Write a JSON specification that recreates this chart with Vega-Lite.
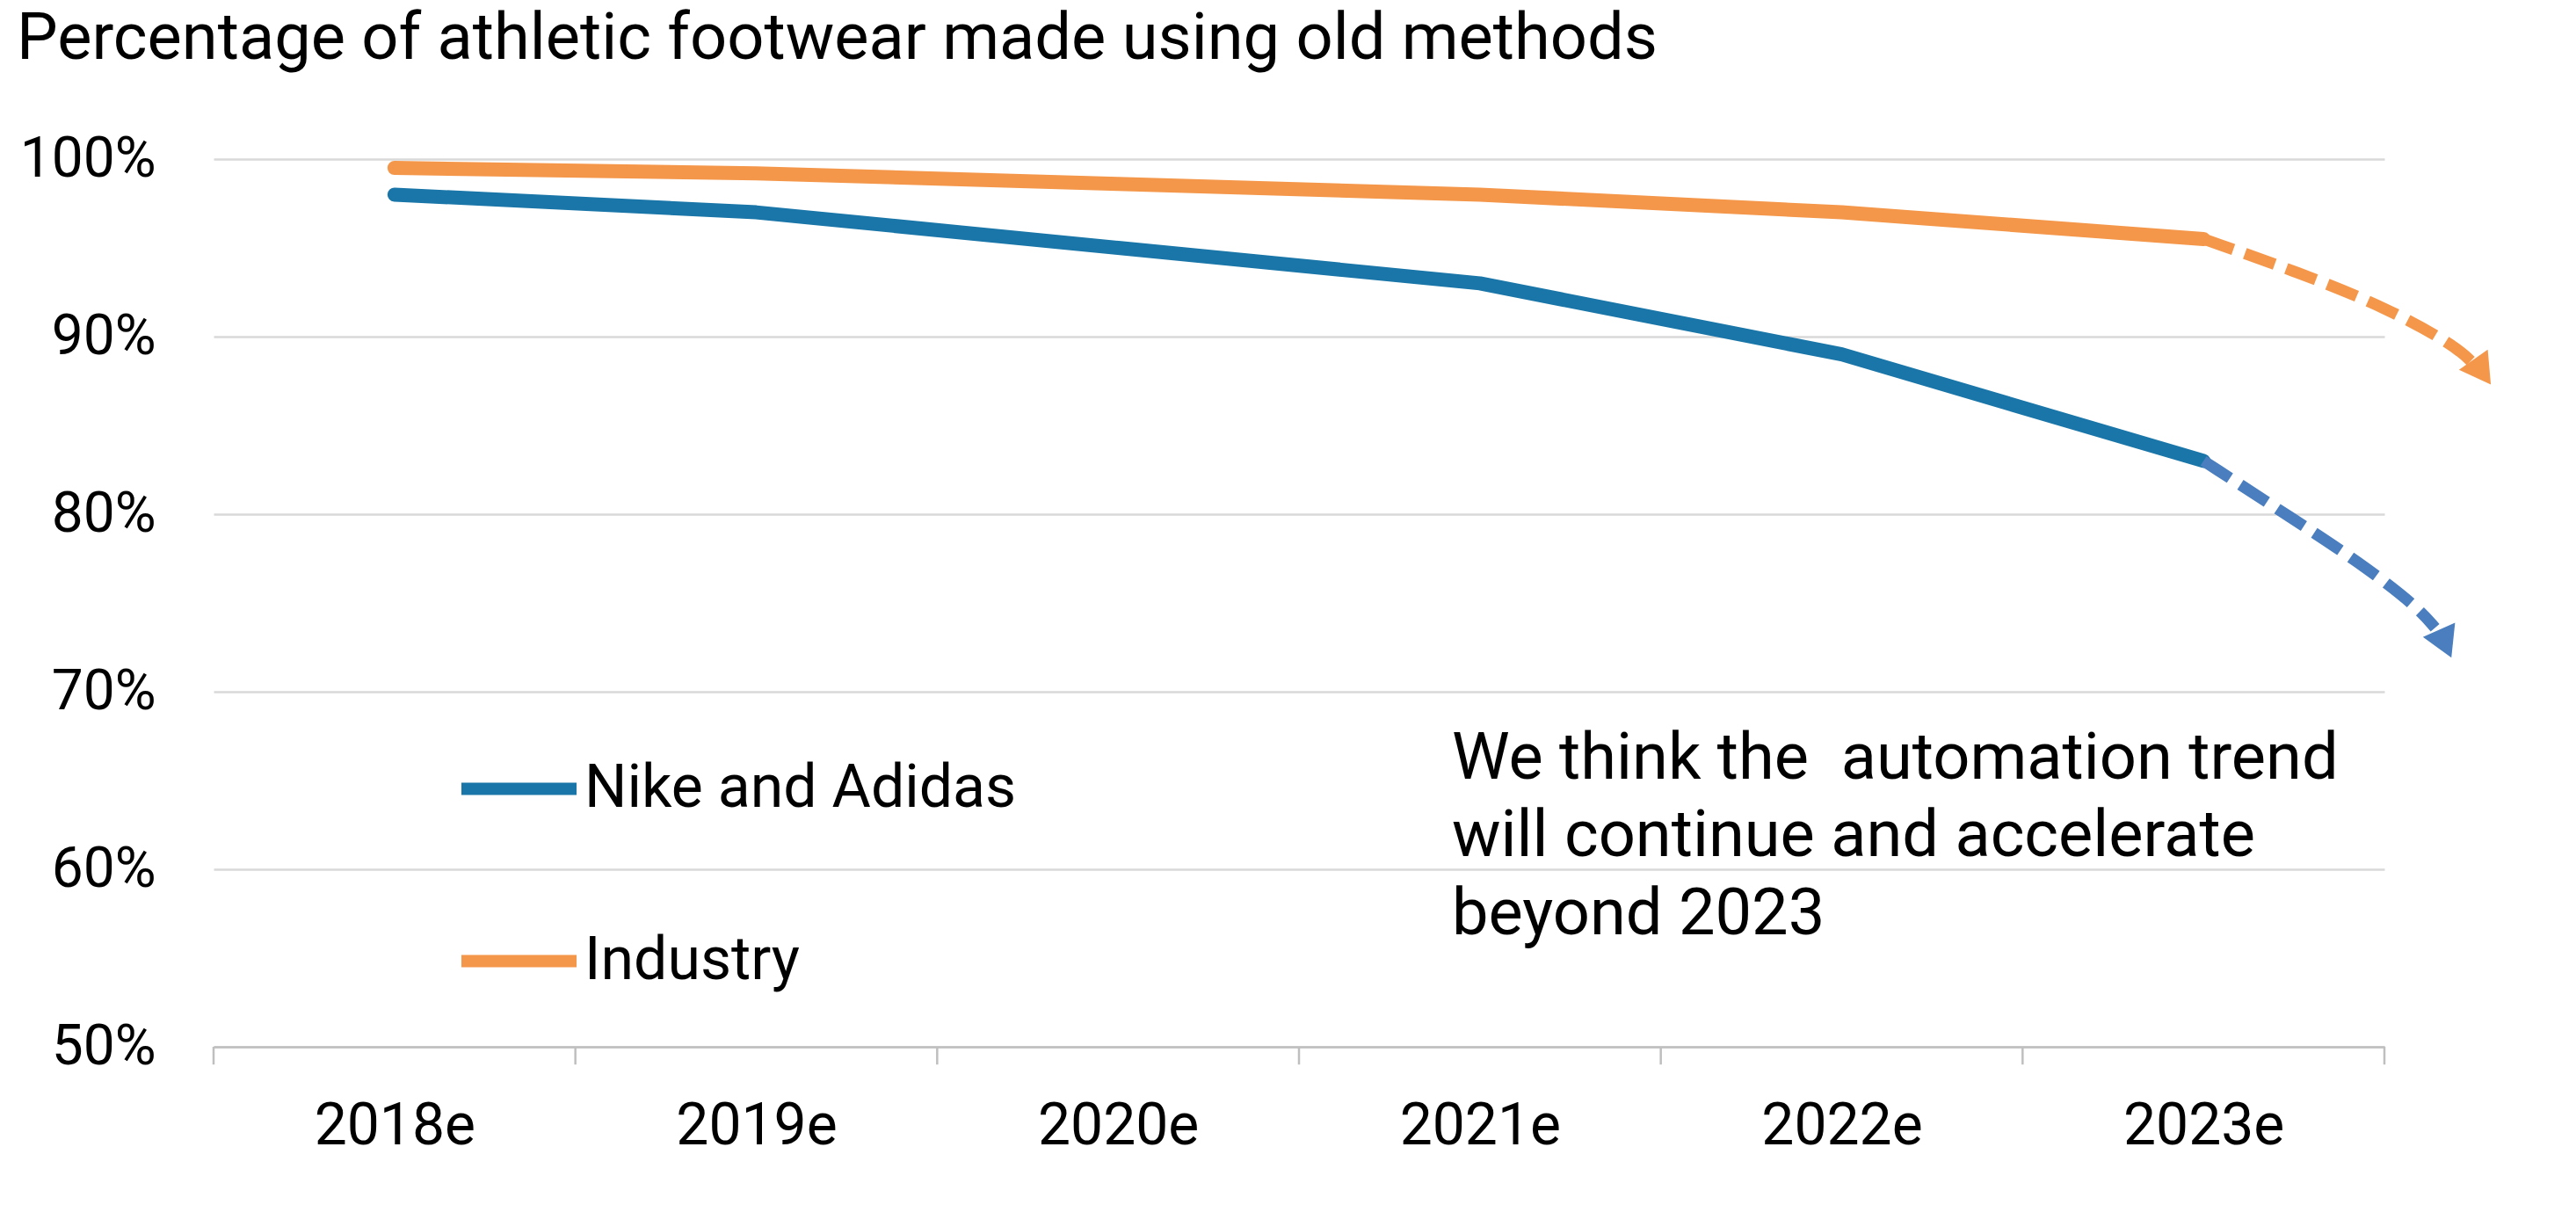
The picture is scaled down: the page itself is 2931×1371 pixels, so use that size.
{
  "$schema": "https://vega.github.io/schema/vega-lite/v6.json",
  "width": 2470,
  "height": 1010,
  "autosize": {"type": "none"},
  "padding": {"left": 243, "top": 181, "right": 218, "bottom": 180},
  "background": "white",
  "config": {
    "font": "Roboto",
    "view": {"stroke": null},
    "legend": {
      "orient": "none",
      "legendX": 275,
      "legendY": 644,
      "title": null,
      "symbolType": "stroke",
      "symbolSize": 17161,
      "symbolStrokeWidth": 14,
      "labelFontSize": 68,
      "labelFont": "Roboto",
      "labelColor": "#000000",
      "labelLimit": 0,
      "rowPadding": 89,
      "labelOffset": 2
    }
  },
  "title": {
    "text": "Percentage of athletic footwear made using old methods",
    "anchor": "start",
    "frame": "group",
    "fontSize": 74,
    "fontWeight": "normal",
    "font": "Roboto",
    "color": "#000000",
    "baseline": "alphabetic",
    "offset": 8,
    "dx": -224,
    "limit": 0
  },
  "datasets": {
    "actual": [
      {"series": "Nike and Adidas", "year": "2018e", "x": 0, "y": 98.0},
      {"series": "Nike and Adidas", "year": "2019e", "x": 1, "y": 97.0},
      {"series": "Nike and Adidas", "year": "2020e", "x": 2, "y": 95.0},
      {"series": "Nike and Adidas", "year": "2021e", "x": 3, "y": 93.0},
      {"series": "Nike and Adidas", "year": "2022e", "x": 4, "y": 89.0},
      {"series": "Nike and Adidas", "year": "2023e", "x": 5, "y": 83.0},
      {"series": "Industry", "year": "2018e", "x": 0, "y": 99.5},
      {"series": "Industry", "year": "2019e", "x": 1, "y": 99.2},
      {"series": "Industry", "year": "2020e", "x": 2, "y": 98.6},
      {"series": "Industry", "year": "2021e", "x": 3, "y": 98.0},
      {"series": "Industry", "year": "2022e", "x": 4, "y": 97.0},
      {"series": "Industry", "year": "2023e", "x": 5, "y": 95.5}
    ],
    "proj": [
      {"series": "Nike and Adidas", "x": 5.0, "y": 83.0},
      {"series": "Nike and Adidas", "x": 5.25, "y": 79.7},
      {"series": "Nike and Adidas", "x": 5.43, "y": 77.3},
      {"series": "Nike and Adidas", "x": 5.59, "y": 74.8},
      {"series": "Nike and Adidas", "x": 5.64, "y": 73.6},
      {"series": "Industry", "x": 5.0, "y": 95.5},
      {"series": "Industry", "x": 5.266, "y": 93.6},
      {"series": "Industry", "x": 5.509, "y": 91.6},
      {"series": "Industry", "x": 5.694, "y": 89.5},
      {"series": "Industry", "x": 5.74, "y": 88.6}
    ],
    "arrows": [
      {"series": "Nike and Adidas", "x": 5.668, "y": 72.7},
      {"series": "Industry", "x": 5.77, "y": 88.0}
    ],
    "bounds": [
      {"x": -0.5}, {"x": 0.5}, {"x": 1.5}, {"x": 2.5}, {"x": 3.5}, {"x": 4.5}, {"x": 5.5}
    ]
  },
  "layer": [
    {
      "data": {"name": "actual"},
      "mark": {"type": "line", "strokeWidth": 16, "strokeCap": "round", "strokeJoin": "round"},
      "encoding": {
        "x": {
          "field": "x",
          "type": "quantitative",
          "scale": {"domain": [-0.5, 5.5], "nice": false, "zero": false},
          "axis": {
            "title": null,
            "values": [0, 1, 2, 3, 4, 5],
            "labelExpr": "['2018e','2019e','2020e','2021e','2022e','2023e'][datum.value]",
            "ticks": false,
            "grid": false,
            "domainColor": "#bfbfbf",
            "domainWidth": 2.5,
            "labelFontSize": 66,
            "labelColor": "#000000",
            "labelBaseline": "alphabetic",
            "labelPadding": 110,
            "labelFlush": false,
            "labelOverlap": false,
            "labelLimit": 0,
            "zindex": 1
          }
        },
        "y": {
          "field": "y",
          "type": "quantitative",
          "scale": {"domain": [50, 100], "nice": false, "zero": false},
          "axis": {
            "title": null,
            "values": [50, 60, 70, 80, 90, 100],
            "labelExpr": "datum.value + '%'",
            "ticks": false,
            "domain": false,
            "grid": true,
            "gridColor": "#d9d9d9",
            "gridWidth": 2.5,
            "labelFontSize": 64,
            "labelColor": "#000000",
            "labelPadding": 66,
            "labelFlush": false,
            "labelLimit": 0
          }
        },
        "color": {
          "field": "series",
          "type": "nominal",
          "sort": ["Nike and Adidas", "Industry"],
          "scale": {"domain": ["Nike and Adidas", "Industry"], "range": ["#1a76a8", "#f5974a"]}
        }
      }
    },
    {
      "data": {"name": "bounds"},
      "mark": {"type": "rule", "color": "#bfbfbf", "strokeWidth": 2.5},
      "encoding": {
        "x": {"field": "x", "type": "quantitative"},
        "y": {"datum": 50},
        "y2": {"datum": 49}
      }
    },
    {
      "data": {"name": "proj"},
      "transform": [{"filter": "datum.series === 'Nike and Adidas'"}],
      "mark": {"type": "line", "strokeWidth": 13, "strokeDash": [36, 14], "interpolate": "basis", "color": "#4a7ebf"},
      "encoding": {
        "x": {"field": "x", "type": "quantitative"},
        "y": {"field": "y", "type": "quantitative"}
      }
    },
    {
      "data": {"name": "proj"},
      "transform": [{"filter": "datum.series === 'Industry'"}],
      "mark": {"type": "line", "strokeWidth": 13, "strokeDash": [36, 14], "interpolate": "basis", "color": "#f5974a"},
      "encoding": {
        "x": {"field": "x", "type": "quantitative"},
        "y": {"field": "y", "type": "quantitative"}
      }
    },
    {
      "data": {"name": "arrows"},
      "transform": [{"filter": "datum.series === 'Nike and Adidas'"}],
      "mark": {"type": "point", "shape": "triangle-right", "filled": true, "opacity": 1, "size": 1600, "angle": 66, "color": "#4a7ebf"},
      "encoding": {
        "x": {"field": "x", "type": "quantitative"},
        "y": {"field": "y", "type": "quantitative"}
      }
    },
    {
      "data": {"name": "arrows"},
      "transform": [{"filter": "datum.series === 'Industry'"}],
      "mark": {"type": "point", "shape": "triangle-right", "filled": true, "opacity": 1, "size": 1600, "angle": 55, "color": "#f5974a"},
      "encoding": {
        "x": {"field": "x", "type": "quantitative"},
        "y": {"field": "y", "type": "quantitative"}
      }
    },
    {
      "data": {"values": [{}]},
      "mark": {
        "type": "text",
        "text": ["We think the \u00a0automation trend", "will continue and accelerate", "beyond 2023"],
        "align": "left",
        "baseline": "alphabetic",
        "fontSize": 74,
        "lineHeight": 88.5,
        "font": "Roboto",
        "color": "#000000"
      },
      "encoding": {
        "x": {"datum": 2.9226},
        "y": {"datum": 65.1}
      }
    }
  ]
}
